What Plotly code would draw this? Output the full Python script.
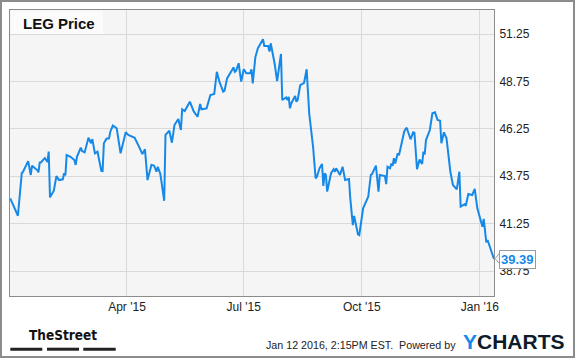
import plotly.graph_objects as go

dates = [
    "2014-12-31", "2015-01-06", "2015-01-09", "2015-01-10", "2015-01-14", "2015-01-16", "2015-01-17",
    "2015-01-21", "2015-01-22", "2015-01-23", "2015-01-24", "2015-01-27", "2015-01-29", "2015-01-30",
    "2015-01-31", "2015-02-03", "2015-02-05", "2015-02-07", "2015-02-10", "2015-02-11", "2015-02-12",
    "2015-02-13", "2015-02-16", "2015-02-19", "2015-02-20", "2015-02-21", "2015-02-24", "2015-02-25",
    "2015-02-27", "2015-03-02", "2015-03-04", "2015-03-05", "2015-03-07", "2015-03-09", "2015-03-12",
    "2015-03-13", "2015-03-14", "2015-03-16", "2015-03-18", "2015-03-19", "2015-03-21", "2015-03-24",
    "2015-03-27", "2015-03-29", "2015-03-31", "2015-04-02", "2015-04-07", "2015-04-11", "2015-04-13",
    "2015-04-15", "2015-04-17", "2015-04-20", "2015-04-22", "2015-04-23", "2015-04-24", "2015-04-25",
    "2015-04-27", "2015-04-30", "2015-05-01", "2015-05-04", "2015-05-06", "2015-05-08", "2015-05-11",
    "2015-05-13", "2015-05-14", "2015-05-16", "2015-05-17", "2015-05-20", "2015-05-21", "2015-05-23",
    "2015-05-26", "2015-05-28", "2015-05-29", "2015-06-02", "2015-06-03", "2015-06-05", "2015-06-08",
    "2015-06-10", "2015-06-12", "2015-06-15", "2015-06-16", "2015-06-18", "2015-06-23", "2015-06-24",
    "2015-06-25", "2015-06-27", "2015-06-28", "2015-06-29", "2015-07-01", "2015-07-03", "2015-07-06",
    "2015-07-07", "2015-07-08", "2015-07-10", "2015-07-12", "2015-07-14", "2015-07-16", "2015-07-17",
    "2015-07-20", "2015-07-21", "2015-07-22", "2015-07-25", "2015-07-27", "2015-07-30", "2015-07-31",
    "2015-08-03", "2015-08-04", "2015-08-05", "2015-08-06", "2015-08-07", "2015-08-10", "2015-08-11",
    "2015-08-12", "2015-08-14", "2015-08-17", "2015-08-19", "2015-08-21", "2015-08-24", "2015-08-26",
    "2015-08-27", "2015-08-29", "2015-08-31", "2015-09-01", "2015-09-02", "2015-09-03", "2015-09-04",
    "2015-09-07", "2015-09-09", "2015-09-10", "2015-09-11", "2015-09-14", "2015-09-16", "2015-09-18",
    "2015-09-21", "2015-09-22", "2015-09-24", "2015-09-25", "2015-09-28", "2015-09-29", "2015-10-02",
    "2015-10-05", "2015-10-06", "2015-10-08", "2015-10-09", "2015-10-12", "2015-10-14", "2015-10-15",
    "2015-10-19", "2015-10-20", "2015-10-21", "2015-10-23", "2015-10-24", "2015-10-25", "2015-10-26",
    "2015-10-27", "2015-10-29", "2015-10-30", "2015-11-01", "2015-11-03", "2015-11-04", "2015-11-05",
    "2015-11-06", "2015-11-08", "2015-11-10", "2015-11-11", "2015-11-13", "2015-11-15", "2015-11-17",
    "2015-11-18", "2015-11-19", "2015-11-20", "2015-11-23", "2015-11-25", "2015-11-27", "2015-11-29",
    "2015-12-01", "2015-12-02", "2015-12-04", "2015-12-06", "2015-12-09", "2015-12-11", "2015-12-14",
    "2015-12-16", "2015-12-17", "2015-12-20", "2015-12-21", "2015-12-23", "2015-12-26", "2015-12-28",
    "2015-12-30", "2016-01-03", "2016-01-04", "2016-01-06", "2016-01-07", "2016-01-12",
]

prices = [
    42.59, 41.67, 43.91, 43.99, 44.55, 43.82, 44.31,
    44.08, 43.96, 44.47, 44.49, 44.71, 44.50, 45.05,
    42.64, 42.99, 43.76, 43.55, 43.59, 43.91, 43.80,
    44.87, 44.78, 44.61, 44.35, 44.78, 45.26, 45.08,
    45.01, 45.78, 45.49, 45.71, 44.96, 45.05, 44.04,
    44.03, 45.49, 45.73, 45.75, 46.10, 46.42, 46.28,
    44.96, 45.49, 46.07, 45.93, 45.78, 45.22, 44.92,
    45.17, 43.55, 44.35, 44.31, 44.17, 43.99, 44.25,
    43.87, 42.46, 45.93, 46.15, 45.52, 46.45, 46.77,
    46.19, 47.28, 47.19, 47.33, 47.68, 47.51, 47.17,
    46.89, 47.56, 47.28, 47.33, 47.56, 48.03, 48.09,
    49.26, 48.74, 48.21, 48.26, 48.91, 49.49, 49.26,
    49.31, 49.71, 49.21, 48.74, 49.39, 49.18, 49.18,
    49.39, 48.65, 50.02, 50.50, 50.72, 50.97, 50.62,
    50.62, 50.32, 50.76, 49.71, 48.77, 50.20, 47.77,
    47.91, 47.77, 47.94, 47.33, 47.59, 47.98, 47.68,
    47.77, 48.56, 48.68, 49.39, 47.07, 45.31, 43.64,
    43.73, 44.17, 44.40, 43.24, 43.91, 43.82, 42.94,
    43.91, 44.12, 43.99, 44.17, 43.82, 44.25, 43.55,
    43.61, 42.59, 41.18, 41.66, 40.69, 40.65, 42.06,
    42.50, 42.67, 43.82, 43.87, 44.31, 42.94, 43.82,
    43.76, 43.34, 44.25, 44.17, 44.43, 44.30, 44.70,
    44.43, 44.96, 44.87, 45.49, 46.10, 46.23, 46.31,
    46.10, 45.70, 46.07, 46.05, 44.12, 44.64, 44.40,
    45.05, 44.90, 45.66, 46.19, 47.07, 47.12, 46.72,
    46.68, 45.49, 46.07, 45.75, 43.99, 43.29, 43.06,
    43.99, 42.15, 42.27, 42.20, 42.82, 42.76, 43.08,
    42.06, 41.09, 41.50, 40.27, 40.39, 39.39,
]

y_ticks = [38.75, 41.25, 43.75, 46.25, 48.75, 51.25]
x_tick_dates = ["2015-04-01", "2015-07-01", "2015-10-01", "2016-01-01"]
x_tick_labels = ["Apr '15", "Jul '15", "Oct '15", "Jan '16"]

title_text = "LEG Price"
last_label = "39.39"
footer_text = "Jan 12 2016, 2:15PM EST.  Powered by"

FONT = "Liberation Sans, Arial, sans-serif"
BLUE = "#1689e8"

fig = go.Figure()
fig.add_trace(go.Scatter(
    x=dates, y=prices, mode="lines",
    line=dict(color=BLUE, width=2),
    hoverinfo="x+y", showlegend=False,
))

# pixel -> paper helpers (plot area: x 10..494, y 10..296)
def px(x):
    return (x - 10) / 484.0

def py(y):
    return (296 - y) / 286.0

shapes = [
    # outer frame
    dict(type="rect", xref="paper", yref="paper", x0=px(1), x1=px(574), y0=py(1), y1=py(357),
         line=dict(color="#8c8c8c", width=2), fillcolor="rgba(0,0,0,0)", layer="above"),
    # title box
    dict(type="rect", xref="paper", yref="paper", x0=px(11), x1=px(103), y0=py(34), y1=py(11),
         line=dict(width=0), fillcolor="#fbfbfb", layer="above"),
    # TheStreet bars
    dict(type="rect", xref="paper", yref="paper", x0=px(10.3), x1=px(42.3), y0=py(350.7), y1=py(347.7),
         line=dict(width=0), fillcolor="#222222"),
    dict(type="rect", xref="paper", yref="paper", x0=px(47), x1=px(79), y0=py(350.7), y1=py(347.7),
         line=dict(width=0), fillcolor="#222222"),
    dict(type="rect", xref="paper", yref="paper", x0=px(83.3), x1=px(115.7), y0=py(350.7), y1=py(347.7),
         line=dict(width=0), fillcolor="#222222"),
    # pointer of last-value label
    dict(type="path", xref="paper", yref="paper",
         path=f"M {px(499.5)} {py(253.3)} L {px(495)} {py(258.6)} L {px(499.5)} {py(263.6)} Z",
         line=dict(color="#9a9a9a", width=1), fillcolor="white", layer="above"),
]

annotations = [
    dict(text=f"<b>{title_text}</b>", xref="paper", yref="paper", x=px(21), y=py(23.5),
         xanchor="left", yanchor="middle", showarrow=False,
         font=dict(family=FONT, size=15, color="#111111")),
    dict(text=f"<b>{last_label}</b>", xref="paper", yref="y", x=1, y=prices[-1],
         xanchor="left", yanchor="middle", xshift=5, showarrow=False,
         bgcolor="white", bordercolor="#9a9a9a", borderwidth=1, borderpad=1,
         font=dict(family=FONT, size=13, color=BLUE)),
    dict(text="<b>TheStreet</b>", xref="paper", yref="paper", x=px(63), y=py(335),
         xanchor="center", yanchor="middle", showarrow=False,
         font=dict(family="DejaVu Sans Condensed, Liberation Sans Narrow, Arial Narrow, sans-serif",
                   size=13.5, color="#111111")),
    dict(text=footer_text, xref="paper", yref="paper", x=px(458), y=py(344.5),
         xanchor="right", yanchor="middle", showarrow=False,
         font=dict(family=FONT, size=10.7, color="#222222")),
    dict(text=f"<b><span style='color:{BLUE}'>Y</span>CHARTS</b>", xref="paper", yref="paper",
         x=px(513.7), y=py(341.4), xanchor="center", yanchor="middle", showarrow=False,
         font=dict(family=FONT, size=21, color="#0d1b2a")),
]

fig.update_layout(
    width=575, height=358,
    margin=dict(l=10, r=81, t=10, b=62),
    paper_bgcolor="white", plot_bgcolor="#f5f5f5",
    font=dict(family=FONT, size=12, color="#222222"),
    showlegend=False,
    shapes=shapes, annotations=annotations,
    xaxis=dict(
        range=["2014-12-30T20:00", "2016-01-12T00:00"],
        tickvals=x_tick_dates, ticktext=x_tick_labels,
        showgrid=True, gridcolor="#d9d9d9", gridwidth=1,
        showline=True, linecolor="#8c8c8c", linewidth=1, mirror=True,
        ticks="", zeroline=False, fixedrange=True,
        tickfont=dict(size=12, color="#222222"),
    ),
    yaxis=dict(
        range=[37.44, 52.515], side="right",
        tickvals=y_ticks, ticktext=[f"{v:.2f}" for v in y_ticks],
        showgrid=True, gridcolor="#d9d9d9", gridwidth=1,
        showline=True, linecolor="#8c8c8c", linewidth=1, mirror=True,
        ticks="outside", ticklen=2, tickcolor="rgba(0,0,0,0)",
        zeroline=False, fixedrange=True,
        tickfont=dict(size=12, color="#222222"),
    ),
)

fig.write_html(
    "out.html",
    config=dict(displayModeBar=False),
    post_script="document.body.style.margin='0px';document.body.style.overflow='hidden';",
)
